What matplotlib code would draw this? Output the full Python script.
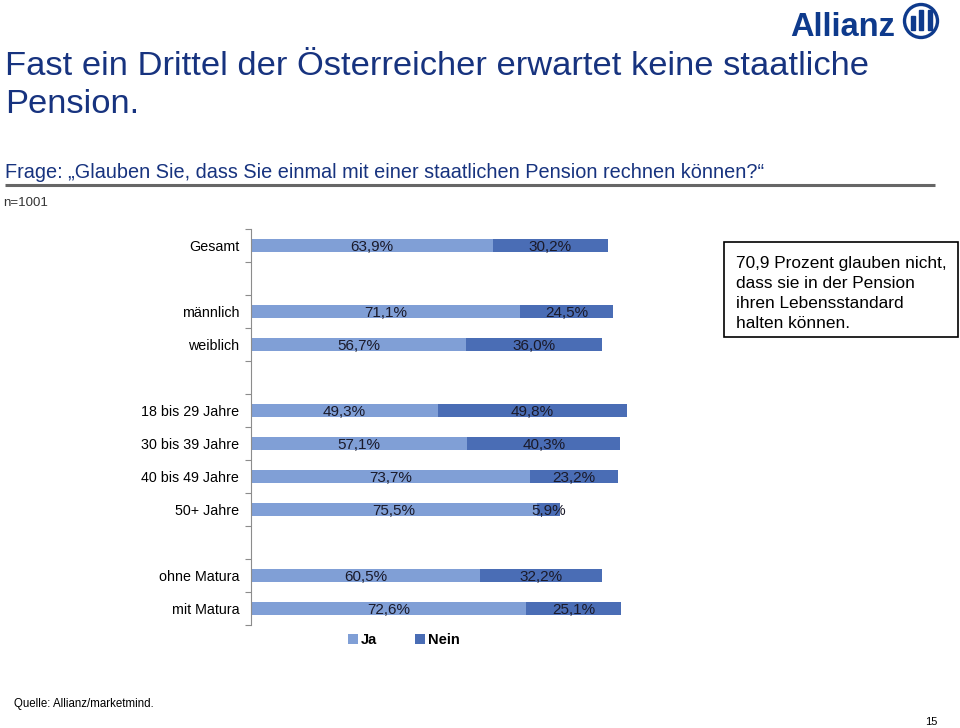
import matplotlib
matplotlib.use("Agg")
import matplotlib.pyplot as plt
from matplotlib.patches import Rectangle, Circle
import numpy as np

plt.rcParams['font.family'] = ['Liberation Sans', 'DejaVu Sans']

# data
categories = ["Gesamt", "männlich", "weiblich",
              "18 bis 29 Jahre", "30 bis 39 Jahre", "40 bis 49 Jahre", "50+ Jahre",
              "ohne Matura", "mit Matura"]
ja = [63.9, 71.1, 56.7, 49.3, 57.1, 73.7, 75.5, 60.5, 72.6]
nein = [30.2, 24.5, 36.0, 49.8, 40.3, 23.2, 5.9, 32.2, 25.1]
# empty slot before these categories (group separation)
gap_before = ["männlich", "18 bis 29 Jahre", "ohne Matura"]

title_lines = ["Fast ein Drittel der Österreicher erwartet keine staatliche", "Pension."]
frage = "Frage: \u201eGlauben Sie, dass Sie einmal mit einer staatlichen Pension rechnen können?\u201c"
note_lines = ["70,9 Prozent glauben nicht,", "dass sie in der Pension",
              "ihren Lebensstandard", "halten können."]

c_ja = '#809fd6'
c_nein = '#4a6db5'
navy = '#17337f'

# slot positions
pos = []
p = 0
for c in categories:
    if c in gap_before:
        p += 1
    pos.append(p)
    p += 1
nslots = p

W, H = 960, 728
fig = plt.figure(figsize=(9.6, 7.28), dpi=100)

# background axes in pixel coords for page elements
bg = fig.add_axes([0, 0, 1, 1], zorder=0)
bg.set_xlim(0, W)
bg.set_ylim(H, 0)
bg.axis('off')

for i, line in enumerate(title_lines):
    bg.text(5, 75 + 38 * i, line, fontsize=24.8, color=navy, va='baseline', ha='left')
bg.text(5, 178, frage, fontsize=14.3, color=navy, va='baseline', ha='left')
bg.plot([5, 935], [185, 185], color='#666666', lw=2.2, solid_capstyle='butt')
bg.text(3, 206, "n=1001", fontsize=9.5, color='#333333', va='baseline')
bg.text(14, 707, "Quelle: Allianz/marketmind.", fontsize=8.3, color='black', va='baseline')
bg.text(937, 725, "15", fontsize=8, color='black', va='baseline', ha='right')

# note box
bg.add_patch(Rectangle((724, 242), 234, 95, fill=False, ec='black', lw=1.2))
for i, line in enumerate(note_lines):
    bg.text(736, 268 + 20 * i, line, fontsize=12.4, color='black', va='baseline')

# logo
bg.text(790, 36, "Allianz", fontsize=23.5, fontweight='bold', color='#0e3a8c', va='baseline')
bg.add_patch(Circle((921, 21), 16.5, fill=False, ec='#0e3a8c', lw=2.4))
bg.add_patch(Rectangle((910.5, 16), 4, 14, color='#0e3a8c'))
bg.add_patch(Rectangle((919, 10), 4, 20, color='#0e3a8c'))
bg.add_patch(Rectangle((927.5, 10), 4, 20, color='#0e3a8c'))

# chart
top, bottom = 229, 625
ax = fig.add_axes([251 / W, 1 - bottom / H, 379 / W, (bottom - top) / H], zorder=1)
ax.patch.set_alpha(0)
ja_a = np.array(ja)
nein_a = np.array(nein)
ax.barh(pos, ja_a, height=0.4, color=c_ja, label='Ja')
ax.barh(pos, nein_a, left=ja_a, height=0.4, color=c_nein, label='Nein')

for y, a, b in zip(pos, ja_a, nein_a):
    ax.text(a / 2, y + 0.05, f"{a:.1f}%".replace('.', ','), ha='center', va='center',
            fontsize=11, color='#1a1a2a')
    ax.text(a + b / 2, y + 0.05, f"{b:.1f}%".replace('.', ','), ha='center', va='center',
            fontsize=11, color='#1a1a2a')

ax.set_xlim(0, 100)
ax.set_ylim(nslots - 0.5, -0.5)
for s in ['top', 'right', 'bottom']:
    ax.spines[s].set_visible(False)
ax.spines['left'].set_color('#8c8c8c')
ax.set_xticks([])
ax.set_yticks(np.arange(-0.5, nslots, 1))
ax.set_yticklabels([])
ax.tick_params(axis='y', which='major', length=4, color='#8c8c8c')
ax.set_yticks(pos, categories, minor=True)
ax.tick_params(axis='y', which='minor', length=0, pad=8.5, labelsize=10.3)

leg = ax.legend(loc='center', bbox_to_anchor=(0.403, -0.038), ncol=2, frameon=False,
                handlelength=0.7, handleheight=0.7, handletextpad=0.2, columnspacing=2.6,
                prop={'weight': 'bold', 'size': 10.5})

fig.savefig("out.png", dpi=100)
